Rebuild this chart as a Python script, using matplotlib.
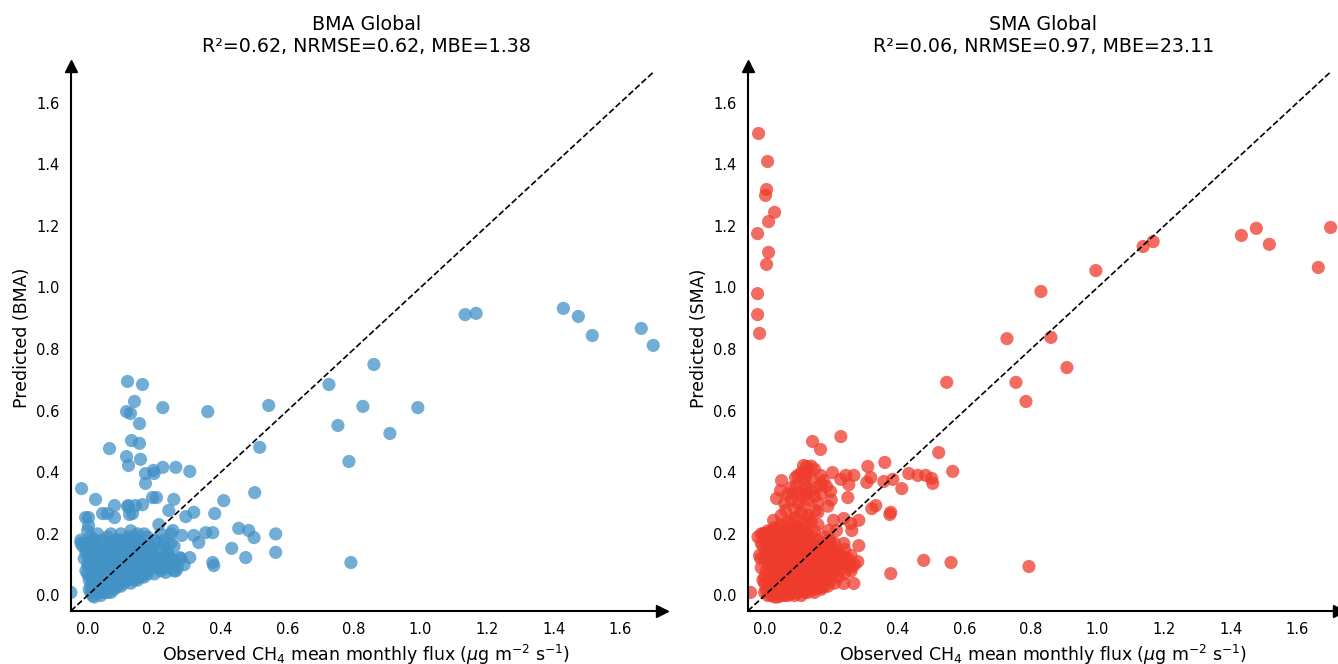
import numpy as np
import matplotlib
matplotlib.use('Agg')
import matplotlib.pyplot as plt

# (observed, predicted) pairs

bma_core = [
    (-0.05, 0.01), (-0.02, 0.18), (-0.015, 0.16), (-0.01, 0.17), (0.0, 0.15), (0.01, 0.19),
    (0.02, 0.18), (-0.01, 0.12), (0.0, 0.1), (0.0, 0.07), (0.005, 0.05), (0.01, 0.03),
    (0.015, 0.0), (0.02, -0.005), (0.01, 0.01), (0.02, 0.02), (0.03, 0.01), (0.04, 0.0),
    (0.05, 0.01), (0.06, 0.02), (0.07, 0.01), (0.08, 0.02), (0.09, 0.03), (0.1, 0.03),
    (0.11, 0.04), (0.12, 0.05), (0.13, 0.04), (0.14, 0.06), (0.15, 0.05), (0.16, 0.07),
    (0.17, 0.06), (0.18, 0.08), (0.2, 0.07), (0.22, 0.08), (0.24, 0.09), (0.26, 0.08),
    (0.25, 0.12), (0.23, 0.11), (0.21, 0.1), (0.19, 0.11), (0.2, 0.13), (0.18, 0.14),
    (0.16, 0.12), (0.15, 0.1), (0.13, 0.09), (0.12, 0.11), (0.1, 0.08), (0.09, 0.06),
    (0.08, 0.05), (0.07, 0.07), (0.06, 0.05), (0.05, 0.04), (0.04, 0.06), (0.03, 0.05),
    (0.02, 0.08), (0.03, 0.1), (0.04, 0.12), (0.05, 0.09), (0.06, 0.11), (0.07, 0.13),
    (0.08, 0.1), (0.09, 0.12), (0.1, 0.14), (0.11, 0.12), (0.12, 0.15), (0.13, 0.13),
    (0.14, 0.16), (0.15, 0.14), (0.16, 0.17), (0.17, 0.15), (0.14, 0.19), (0.12, 0.18),
    (0.1, 0.17), (0.08, 0.16), (0.06, 0.15), (0.04, 0.16), (0.02, 0.14), (0.01, 0.12),
    (0.03, 0.03), (0.05, 0.02), (0.07, 0.04), (0.09, 0.09), (0.11, 0.07), (0.13, 0.07),
    (0.17, 0.1), (0.19, 0.09), (0.21, 0.12), (0.22, 0.15), (0.24, 0.14), (0.26, 0.11),
    (0.27, 0.09), (0.23, 0.18), (0.2, 0.18), (0.18, 0.19), (0.25, 0.2), (0.22, 0.2),
    (0.1, 0.2), (0.06, 0.19), (0.03, 0.2), (0.0, 0.21), (0.07, 0.2), (0.13, 0.21),
    (0.15, 0.2), (0.11, 0.1), (0.06, 0.08), (0.04, 0.03), (0.08, 0.07), (0.12, 0.08),
    (0.14, 0.11), (0.16, 0.09), (0.18, 0.12), (0.02, 0.11), (0.0, 0.13), (-0.02, 0.17),
    (0.01, 0.06), (0.03, 0.07), (0.05, 0.13), (0.07, 0.15), (0.09, 0.18), (0.11, 0.16),
    (0.13, 0.17), (0.15, 0.18), (0.17, 0.2), (0.19, 0.16), (0.21, 0.17), (0.23, 0.16),
    (0.26, 0.16), (0.28, 0.12), (0.29, 0.1), (0.235, 0.075), (0.265, 0.08), (0.25, 0.17),
]

bma_dense = [
    (0.005, 0.02), (0.015, 0.04), (0.025, 0.03), (0.035, 0.02), (0.045, 0.05), (0.055, 0.03),
    (0.065, 0.06), (0.075, 0.05), (0.085, 0.04), (0.095, 0.07), (0.105, 0.06), (0.115, 0.05),
    (0.125, 0.07), (0.135, 0.08), (0.145, 0.07), (0.155, 0.08), (0.165, 0.09), (0.175, 0.08),
    (0.185, 0.1), (0.195, 0.1), (0.205, 0.11), (0.215, 0.09), (0.225, 0.12), (0.235, 0.1),
    (0.245, 0.13), (0.015, 0.08), (0.025, 0.09), (0.035, 0.08), (0.045, 0.1), (0.055, 0.08),
    (0.065, 0.1), (0.075, 0.09), (0.085, 0.11), (0.095, 0.1), (0.105, 0.11), (0.115, 0.13),
    (0.125, 0.12), (0.135, 0.11), (0.145, 0.13), (0.155, 0.12), (0.165, 0.14), (0.175, 0.13),
    (0.185, 0.15), (0.195, 0.14), (0.005, 0.1), (0.015, 0.13), (0.025, 0.12), (0.035, 0.14),
    (0.045, 0.13), (0.055, 0.15), (0.065, 0.13), (0.075, 0.14), (0.085, 0.13), (0.095, 0.15),
    (0.105, 0.13), (0.115, 0.15), (0.125, 0.14), (0.135, 0.15), (0.145, 0.17), (0.155, 0.16),
    (0.165, 0.16), (-0.005, 0.14), (-0.005, 0.08), (0.005, 0.17), (0.025, 0.16), (0.045, 0.18),
    (0.065, 0.17), (0.085, 0.18), (0.105, 0.18), (0.125, 0.19), (0.02, 0.04), (0.04, 0.01),
    (0.06, 0.01), (0.08, 0.03), (0.1, 0.05), (0.12, 0.06), (0.14, 0.05), (0.16, 0.06),
    (0.18, 0.07), (0.2, 0.09), (0.22, 0.11), (0.24, 0.12),
]

bma_spread = [
    (0.003, 0.253), (0.003, 0.227), (0.045, 0.266), (0.06, 0.266), (0.081, 0.253),
    (0.123, 0.292), (0.135, 0.266), (0.165, 0.295), (0.214, 0.23), (0.244, 0.276),
    (0.256, 0.211), (0.283, 0.195), (0.295, 0.256), (0.319, 0.27), (0.319, 0.195),
    (0.334, 0.172), (0.277, 0.123), (0.307, 0.123), (0.355, 0.204), (0.376, 0.204),
    (0.382, 0.266), (0.409, 0.308), (0.376, 0.107), (0.379, 0.097), (0.433, 0.153),
    (0.454, 0.218), (0.484, 0.211), (0.5, 0.188), (0.475, 0.123), (0.565, 0.2),
    (0.565, 0.14), (0.502, 0.334), (0.517, 0.481), (0.361, 0.597), (-0.018, 0.347),
    (0.024, 0.312), (0.081, 0.292), (0.195, 0.318), (0.207, 0.318), (0.259, 0.312),
    (0.12, 0.695), (0.165, 0.685), (0.226, 0.61), (0.117, 0.597), (0.129, 0.591),
    (0.141, 0.63), (0.156, 0.558), (0.132, 0.503), (0.156, 0.494), (0.066, 0.477),
    (0.117, 0.451), (0.159, 0.442), (0.123, 0.422), (0.226, 0.416), (0.265, 0.416),
    (0.307, 0.403), (0.198, 0.406), (0.2, 0.396), (0.174, 0.396), (0.174, 0.364),
    (0.12, 0.289), (0.144, 0.292), (0.126, 0.263), (-0.006, 0.253),
]

bma_far = [
    (1.134, 0.912), (1.167, 0.916), (1.429, 0.932), (1.474, 0.906), (1.516, 0.844),
    (1.663, 0.867), (1.699, 0.812), (0.86, 0.75), (0.725, 0.685), (0.544, 0.617),
    (0.827, 0.614), (0.992, 0.61), (0.752, 0.552), (0.908, 0.526), (0.785, 0.435),
    (0.791, 0.107),
]

sma_core = [
    (-0.02, 0.19), (-0.01, 0.17), (0.0, 0.2), (0.01, 0.15), (0.0, 0.12), (-0.01, 0.09),
    (0.0, 0.06), (0.01, 0.03), (0.0, 0.01), (0.02, 0.0), (0.03, 0.01), (0.04, -0.005),
    (0.05, 0.01), (0.06, 0.0), (0.07, 0.01), (0.08, 0.005), (0.09, 0.02), (0.1, 0.01),
    (0.11, 0.02), (0.12, 0.01), (0.13, 0.02), (0.14, 0.03), (0.15, 0.02), (0.16, 0.04),
    (0.18, 0.03), (0.2, 0.05), (0.22, 0.06), (0.24, 0.07), (0.26, 0.08), (0.27, 0.1),
    (0.25, 0.12), (0.23, 0.1), (0.21, 0.09), (0.19, 0.08), (0.17, 0.07), (0.15, 0.06),
    (0.13, 0.05), (0.11, 0.05), (0.09, 0.04), (0.07, 0.03), (0.05, 0.04), (0.03, 0.05),
    (0.02, 0.07), (0.04, 0.08), (0.06, 0.07), (0.08, 0.09), (0.1, 0.08), (0.12, 0.09),
    (0.14, 0.1), (0.16, 0.11), (0.18, 0.12), (0.2, 0.13), (0.22, 0.14), (0.24, 0.15),
    (0.21, 0.17), (0.19, 0.16), (0.17, 0.15), (0.15, 0.14), (0.13, 0.13), (0.11, 0.12),
    (0.09, 0.11), (0.07, 0.1), (0.05, 0.11), (0.03, 0.12), (0.02, 0.14), (0.04, 0.15),
    (0.06, 0.14), (0.08, 0.13), (0.1, 0.15), (0.12, 0.16), (0.14, 0.17), (0.16, 0.18),
    (0.18, 0.19), (0.13, 0.2), (0.11, 0.19), (0.09, 0.18), (0.07, 0.17), (0.05, 0.18),
    (0.03, 0.19), (0.01, 0.18), (0.06, 0.21), (0.08, 0.2), (0.1, 0.22), (0.04, 0.22),
    (0.02, 0.21), (0.15, 0.21), (0.01, 0.1), (0.03, 0.09), (0.05, 0.06), (0.07, 0.06),
    (0.09, 0.07), (0.11, 0.08), (0.13, 0.08), (0.15, 0.09), (0.17, 0.1), (0.19, 0.11),
    (0.21, 0.12), (0.23, 0.13), (0.26, 0.13), (0.28, 0.11), (0.0, 0.04), (0.02, 0.02),
    (0.04, 0.02), (0.06, 0.03), (0.08, 0.03), (0.1, 0.04), (0.12, 0.03), (0.14, 0.04),
    (0.16, 0.05), (0.18, 0.06), (0.2, 0.07), (0.22, 0.1), (0.24, 0.11), (0.02, 0.11),
    (0.04, 0.13), (0.06, 0.12), (0.08, 0.16), (0.1, 0.12), (0.12, 0.14), (0.14, 0.13),
    (0.16, 0.15), (0.18, 0.16),
]

sma_dense = [
    (0.005, 0.02), (0.015, 0.05), (0.025, 0.03), (0.035, 0.04), (0.045, 0.02), (0.055, 0.05),
    (0.065, 0.02), (0.075, 0.05), (0.085, 0.02), (0.095, 0.05), (0.105, 0.03), (0.115, 0.06),
    (0.125, 0.04), (0.135, 0.07), (0.145, 0.05), (0.155, 0.08), (0.165, 0.06), (0.175, 0.09),
    (0.185, 0.05), (0.195, 0.1), (0.205, 0.08), (0.215, 0.11), (0.225, 0.08), (0.235, 0.12),
    (0.255, 0.1), (0.005, 0.08), (0.015, 0.12), (0.025, 0.1), (0.035, 0.07), (0.045, 0.1),
    (0.055, 0.13), (0.065, 0.09), (0.075, 0.12), (0.085, 0.1), (0.095, 0.14), (0.105, 0.1),
    (0.115, 0.14), (0.125, 0.11), (0.135, 0.15), (0.145, 0.12), (0.155, 0.16), (0.165, 0.13),
    (0.175, 0.17), (0.185, 0.14), (0.195, 0.18), (0.205, 0.15), (0.005, 0.14), (0.015, 0.17),
    (0.025, 0.15), (0.035, 0.17), (0.045, 0.2), (0.055, 0.16), (0.065, 0.19), (0.075, 0.15),
    (0.085, 0.19), (0.095, 0.16), (0.105, 0.2), (0.115, 0.17), (0.125, 0.21), (0.135, 0.18),
    (0.145, 0.19), (-0.005, 0.16), (-0.005, 0.05), (-0.015, 0.13), (-0.01, 0.2), (0.01, 0.21),
    (0.03, 0.22), (0.05, 0.23), (0.07, 0.22), (0.09, 0.21), (0.11, 0.22), (0.01, 0.0),
    (0.03, -0.005), (0.05, 0.0), (0.07, 0.0), (0.09, 0.0), (0.11, 0.0), (0.13, 0.01),
    (0.15, 0.01), (0.17, 0.02), (0.19, 0.03), (0.21, 0.04),
]

sma_upper = [
    (0.06, 0.3), (0.07, 0.33), (0.08, 0.31), (0.09, 0.28), (0.1, 0.3), (0.11, 0.32),
    (0.12, 0.29), (0.13, 0.31), (0.14, 0.34), (0.15, 0.32), (0.16, 0.3), (0.17, 0.33),
    (0.12, 0.36), (0.14, 0.38), (0.15, 0.41), (0.1, 0.39), (0.08, 0.35), (0.11, 0.27),
    (0.13, 0.26), (0.16, 0.27), (0.19, 0.29), (0.2, 0.31), (0.17, 0.36), (0.05, 0.26),
    (0.07, 0.24), (0.09, 0.25), (0.12, 0.23), (0.14, 0.24), (0.16, 0.23),
    (0.085, 0.33), (0.125, 0.33), (0.155, 0.35), (0.13, 0.4), (0.14, 0.42),
    (0.144, 0.5), (0.229, 0.516), (0.168, 0.474), (0.051, 0.373), (0.048, 0.341),
    (0.093, 0.383), (0.096, 0.357), (0.117, 0.422), (0.126, 0.419), (0.111, 0.399),
    (0.123, 0.38), (0.123, 0.347), (0.102, 0.334), (0.168, 0.39), (0.177, 0.373),
    (0.186, 0.354), (0.198, 0.338), (0.204, 0.399), (0.229, 0.377), (0.244, 0.39),
    (0.253, 0.36), (0.268, 0.39), (0.25, 0.318), (0.31, 0.419), (0.319, 0.383),
    (0.307, 0.367), (0.361, 0.432), (0.358, 0.37), (0.385, 0.377), (0.412, 0.347),
    (0.433, 0.396), (0.46, 0.39), (0.484, 0.39), (0.502, 0.38), (0.505, 0.364),
    (0.523, 0.464), (0.565, 0.403),
    (0.036, 0.315), (0.063, 0.276), (0.027, 0.244), (-0.003, 0.201), (0.006, 0.169),
    (-0.012, 0.12), (-0.042, 0.01), (0.078, 0.234), (0.096, 0.253), (0.117, 0.205),
    (0.102, 0.218), (0.132, 0.25), (0.153, 0.276), (0.192, 0.211), (0.207, 0.244),
    (0.216, 0.211), (0.238, 0.25), (0.262, 0.211), (0.259, 0.234), (0.283, 0.244),
    (0.238, 0.169), (0.283, 0.162), (0.198, 0.172), (0.207, 0.146), (0.238, 0.039),
    (0.268, 0.039), (0.259, 0.091), (0.247, 0.114), (0.147, 0.026), (0.171, 0.026),
    (0.379, 0.27), (0.379, 0.071), (0.478, 0.114), (0.56, 0.107), (0.322, 0.282),
    (0.334, 0.292), (0.376, 0.263),
]

sma_far = [
    (-0.018, 1.5), (0.009, 1.409), (0.006, 1.318), (0.003, 1.299), (0.03, 1.244),
    (0.012, 1.214), (-0.021, 1.175), (0.012, 1.114), (0.006, 1.075), (-0.021, 0.98),
    (-0.021, 0.912), (-0.015, 0.851),
    (1.137, 1.133), (1.167, 1.149), (1.432, 1.169), (1.477, 1.192), (1.516, 1.14),
    (1.663, 1.065), (1.7, 1.195), (0.995, 1.055), (0.83, 0.987), (0.86, 0.838),
    (0.728, 0.834), (0.755, 0.692), (0.547, 0.692), (0.785, 0.63), (0.908, 0.74),
    (0.794, 0.094),
]

titles = ['BMA Global\nR²=0.62, NRMSE=0.62, MBE=1.38',
          'SMA Global\nR²=0.06, NRMSE=0.97, MBE=23.11']
ylabels = ['Predicted (BMA)', 'Predicted (SMA)']
colors = ['#4292c6', '#ef3b2c']
xlabel = r'Observed CH$_4$ mean monthly flux ($\mu$g m$^{-2}$ s$^{-1}$)'
ticks = [0.0, 0.2, 0.4, 0.6, 0.8, 1.0, 1.2, 1.4, 1.6]

bma = np.array(bma_core + bma_dense + bma_spread + bma_far)
sma = np.array(sma_core + sma_dense + sma_upper + sma_far)

fig = plt.figure(figsize=(13.38, 6.64), dpi=100)
axes = [fig.add_axes([0.053, 0.08, 0.4417, 0.821]),
        fig.add_axes([0.559, 0.08, 0.4417, 0.821])]

for ax, pts, col, tit, yl in zip(axes, [bma, sma], colors, titles, ylabels):
    ax.scatter(pts[:, 0], pts[:, 1], s=90, c=col, alpha=0.75, edgecolors='none')
    ax.plot([-0.05, 1.7], [-0.05, 1.7], 'k--', lw=1.2)
    ax.set_xlim(-0.05, 1.725)
    ax.set_ylim(-0.05, 1.72)
    ax.set_xticks(ticks)
    ax.set_yticks(ticks)
    ax.tick_params(length=0, labelsize=10.5, pad=8)
    for s in ['top', 'right']:
        ax.spines[s].set_visible(False)
    for s in ['left', 'bottom']:
        ax.spines[s].set_linewidth(1.5)
    ax.plot(1, 0, '>k', ms=9, transform=ax.transAxes, clip_on=False)
    ax.plot(0, 1, '^k', ms=9, transform=ax.transAxes, clip_on=False)
    ax.set_title(tit, fontsize=13.7, pad=10)
    ax.set_xlabel(xlabel, fontsize=12.5)
    ax.set_ylabel(yl, fontsize=12.5)

fig.savefig('out.png', dpi=100)
